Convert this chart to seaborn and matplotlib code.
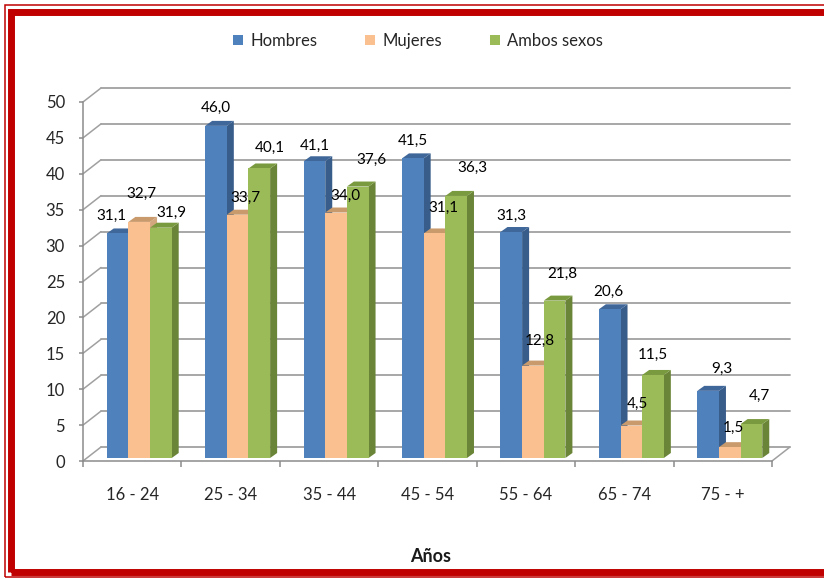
import numpy as np
import pandas as pd
import matplotlib
matplotlib.use("Agg")
import matplotlib.pyplot as plt
from matplotlib.patches import Polygon, Rectangle, Patch
import seaborn as sns

# --- data -----------------------------------------------------------------
edades = ["16 - 24", "25 - 34", "35 - 44", "45 - 54", "55 - 64", "65 - 74", "75 - +"]
series = ["Hombres", "Mujeres", "Ambos sexos"]
hombres = [31.1, 46.0, 41.1, 41.5, 31.3, 20.6, 9.3]
mujeres = [32.7, 33.7, 34.0, 31.1, 12.8, 4.5, 1.5]
ambos = [31.9, 40.1, 37.6, 36.3, 21.8, 11.5, 4.7]
y_ticks = [0, 5, 10, 15, 20, 25, 30, 35, 40, 45, 50]

# --- style ----------------------------------------------------------------
front_col = {"Hombres": "#4F81BD", "Mujeres": "#FAC090", "Ambos sexos": "#9BBB59"}
side_col = {"Hombres": "#385D8A", "Mujeres": "#D2A77E", "Ambos sexos": "#6B8538"}
top_col = {"Hombres": "#40679A", "Mujeres": "#C99A6C", "Ambos sexos": "#7A9A3F"}
# value-label offsets in pixels (right, up) from the top centre of each bar front
label_off = {
    "Hombres": [(-6, 18), (0, 18), (0, 15), (0, 17), (0, 16), (-1, 17), (14, 22)],
    "Mujeres": [(2, 28), (8, 17), (9, 17), (9, 26), (7, 25), (6, 22), (4, 19)],
    "Ambos sexos": [(11, 15), (11, 21), (14, 27), (16, 28), (8, 27), (0, 20), (8, 28)],
}
grid_col = "#A0A0A0"
axis_col = "#8C8C8C"
text_col = "#262626"
red = "#C00000"

W, H = 824, 578
sns.set_style("white")
plt.rcParams["font.family"] = ["Lato", "DejaVu Sans"]

df = pd.DataFrame({
    "edad": edades * 3,
    "serie": [s for s in series for _ in edades],
    "valor": hombres + mujeres + ambos,
})

fig = plt.figure(figsize=(W / 100, H / 100), dpi=100)
fig.patch.set_facecolor("white")


def frac_box(left, top, right, bottom):
    return [left / W, (H - bottom) / H, (right - left) / W, (bottom - top) / H]


# front plane of the 3-D box: carries the axes, ticks and the back wall
ax = fig.add_axes(frac_box(83, 102, 772, 461))
ax.set_xlim(-0.5, len(edades) - 0.5)
ax.set_ylim(0, 50)
ax.set_facecolor("none")
px_x = 689 / len(edades)
px_y = 359 / 50
ddx, ddy = 18 / px_x, 14 / px_y

for v in y_ticks:
    ax.plot([-0.5, -0.5 + ddx], [v, v + ddy], color=grid_col, lw=1.1, clip_on=False, zorder=1)
    ax.plot([-0.5 + ddx, len(edades) - 0.5 + ddx], [v + ddy, v + ddy],
            color=grid_col, lw=1.3, clip_on=False, zorder=1)
ax.plot([len(edades) - 0.5, len(edades) - 0.5 + ddx], [0, ddy],
        color=grid_col, lw=1.1, clip_on=False, zorder=1)

for s in ["top", "right"]:
    ax.spines[s].set_visible(False)
for s in ["left", "bottom"]:
    ax.spines[s].set_color(axis_col)
    ax.spines[s].set_linewidth(1.1)
ax.set_yticks(y_ticks)
ax.set_yticklabels([str(v) for v in y_ticks])
ax.set_xticks(range(len(edades)))
ax.set_xticklabels(edades)
ax.set_xticks(np.arange(-0.5, len(edades)), minor=True)
ax.tick_params(axis="y", direction="out", length=3, width=1.1, color=axis_col,
               pad=10, labelsize=12, labelcolor=text_col, left=True)
ax.tick_params(axis="x", which="major", length=0, pad=19, labelsize=12, labelcolor=text_col)
ax.tick_params(axis="x", which="minor", direction="out", length=4, width=1.1,
               color=axis_col, bottom=True)
ax.set_xlabel("Años", fontsize=13, fontweight="bold", color="#1a1a1a")
ax.xaxis.set_label_coords((431 - 83) / 689, (461 - 557) / 359)
ax.xaxis.label.set_va("center")
ax.set_ylabel("")

# bar layer, sitting slightly inside the box
axb = fig.add_axes(frac_box(90, 97, 779, 458))
sns.barplot(data=df, x="edad", y="valor", hue="serie", order=edades, hue_order=series,
            palette=front_col, saturation=1, width=0.66, errorbar=None,
            legend=False, ax=axb)
axb.set_xlim(-0.5, len(edades) - 0.5)
axb.set_ylim(0, 50)
axb.axis("off")
axb.patch.set_alpha(0)

bx = 7 / (689 / len(edades))
by = 5 / (361 / 50)
bars = [p for p in axb.patches if isinstance(p, Rectangle) and p.get_width() > 0]
# pair each bar with its series by hue order of drawing
n = len(edades)
info = []
for i, p in enumerate(bars):
    s = series[i // n]
    info.append((p.get_x(), p, s, i % n))
info.sort(key=lambda t: t[0])

for k, (x0, p, s, ci) in enumerate(info):
    w, h = p.get_width(), p.get_height()
    base = 2 + k * 0.1
    side = Polygon([(x0 + w, 0), (x0 + w + bx, by), (x0 + w + bx, h + by), (x0 + w, h)],
                   closed=True, facecolor=side_col[s], edgecolor="none", zorder=base,
                   clip_on=False)
    top = Polygon([(x0, h), (x0 + bx, h + by), (x0 + w + bx, h + by), (x0 + w, h)],
                  closed=True, facecolor=top_col[s], edgecolor="none", zorder=base,
                  clip_on=False)
    axb.add_patch(side)
    axb.add_patch(top)
    p.set_zorder(base + 0.05)
    p.set_edgecolor("none")
    p.set_clip_on(False)
    dx, dy = label_off[s][ci]
    axb.annotate(f"{h:.1f}".replace(".", ","), (x0 + w / 2, h),
                 xytext=(dx * 0.72, dy * 0.72), textcoords="offset points",
                 ha="center", va="center", fontsize=11, color="black",
                 zorder=10, annotation_clip=False)

# legend across the top
handles = [Patch(facecolor=front_col[s], edgecolor="none", label=s) for s in series]
fig.legend(handles=handles, loc="center", bbox_to_anchor=(418 / W, 1 - 41 / H),
           ncol=3, frameon=False, fontsize=12, handlelength=0.6, handleheight=0.6,
           handletextpad=0.4, columnspacing=2.9, labelcolor=text_col)

# red double frame
fig.add_artist(Rectangle((4.5 / W, 1.5 / H), (W + 20) / W, (H - 6) / H,
                         transform=fig.transFigure, facecolor="none",
                         edgecolor=red, lw=1.1))
fig.add_artist(Rectangle((11 / W, 6 / H), (W + 20) / W, (H - 17.5) / H,
                         transform=fig.transFigure, facecolor="none",
                         edgecolor=red, lw=5.0))

fig.savefig("out.png", dpi=100, facecolor="white")
